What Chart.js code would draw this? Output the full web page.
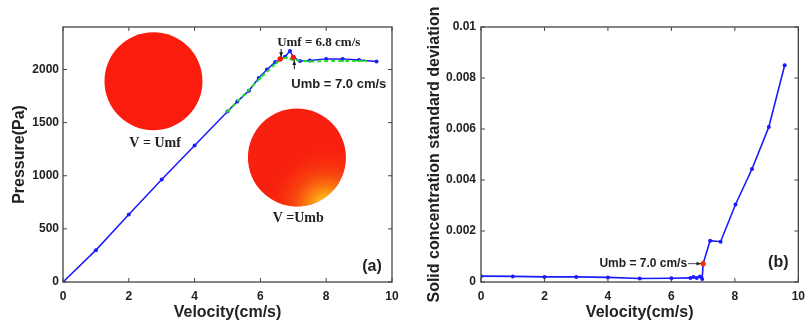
<!DOCTYPE html>
<html>
<head>
<meta charset="utf-8">
<script src="https://cdn.jsdelivr.net/npm/chart.js@4.4.1/dist/chart.umd.min.js"></script>
<style>
  body { margin: 0; background: #fff; }
  .painel { position: absolute; top: 0; }
</style>
</head>
<body>
<div class="painel" style="left:0"><canvas id="graficoA" width="410" height="322"></canvas></div>
<div class="painel" style="left:410px"><canvas id="graficoB" width="402" height="322"></canvas></div>
<script>
// Dados (a): pressão x velocidade
const velPressao = [0, 1, 2, 3, 4, 5, 5.3, 5.65, 5.95, 6.2, 6.45, 6.6, 6.75, 6.9, 7.0, 7.2, 7.5, 8, 8.5, 9, 9.53];
const pressao = [0, 300, 635, 965, 1285, 1605, 1700, 1800, 1920, 2000, 2070, 2100, 2120, 2175, 2115, 2080, 2085, 2100, 2100, 2090, 2075];
const velVerde = [5, 5.5, 6, 6.5, 6.6, 6.8, 7.0, 7.5, 8, 8.5, 9, 9.2];
const pressaoVerde = [1605, 1760, 1920, 2065, 2100, 2110, 2090, 2075, 2080, 2080, 2080, 2080];
const velMarcas = [6.6, 7.0];
const pressaoMarcas = [2100, 2115];

// Dados do gráfico (b): desvio padrão da concentração de sólidos
const velDesvio = [0, 1, 2, 3, 4, 5, 6, 6.6, 6.7, 6.8, 6.9, 6.97, 7.0, 7.22, 7.55, 8.02, 8.54, 9.07, 9.57];
const desvio = [0.00023, 0.00022, 0.0002, 0.0002, 0.00018, 0.00014, 0.00015, 0.00016, 0.0002, 0.00016, 0.00022, 0.00012, 0.00072, 0.00162, 0.00158, 0.00304, 0.00443, 0.00608, 0.0085];
const velMarcaB = [7.0];
const desvioMarcaB = [0.00072];

// Ticks
const ticksVel = [0, 2, 4, 6, 8, 10];
const ticksPressao = [0, 500, 1000, 1500, 2000];
const ticksDesvio = [0, 0.002, 0.004, 0.006, 0.008, 0.01];

const pares = (xs, ys) => xs.map((x, i) => ({ x: x, y: ys[i] }));
const fonteTick = { family: 'Liberation Sans', size: 12, weight: 'bold' };
const fonteTitulo = { family: 'Liberation Sans', size: 16, weight: 'bold', lineHeight: 1.2 };
const corTexto = '#222';

// Moldura estilo MATLAB com ticks para dentro
const moldura = {
  id: 'moldura',
  afterDraw(chart) {
    const { ctx, chartArea: a, scales } = chart;
    ctx.save();
    ctx.strokeStyle = '#444';
    ctx.lineWidth = 1.3;
    ctx.strokeRect(a.left, a.top, a.right - a.left, a.bottom - a.top);
    ctx.lineWidth = 1;
    ctx.beginPath();
    scales.x.ticks.forEach(t => {
      const px = scales.x.getPixelForValue(t.value);
      ctx.moveTo(px, a.bottom); ctx.lineTo(px, a.bottom - 4);
      ctx.moveTo(px, a.top); ctx.lineTo(px, a.top + 4);
    });
    scales.y.ticks.forEach(t => {
      const py = scales.y.getPixelForValue(t.value);
      ctx.moveTo(a.left, py); ctx.lineTo(a.left + 4, py);
      ctx.moveTo(a.right, py); ctx.lineTo(a.right - 4, py);
    });
    ctx.stroke();
    ctx.restore();
  }
};

function seta(ctx, x1, y1, x2, y2) {
  const ang = Math.atan2(y2 - y1, x2 - x1);
  ctx.beginPath();
  ctx.moveTo(x1, y1); ctx.lineTo(x2, y2);
  ctx.stroke();
  ctx.beginPath();
  ctx.moveTo(x2, y2);
  ctx.lineTo(x2 - 5 * Math.cos(ang - 0.4), y2 - 5 * Math.sin(ang - 0.4));
  ctx.lineTo(x2 - 5 * Math.cos(ang + 0.4), y2 - 5 * Math.sin(ang + 0.4));
  ctx.closePath();
  ctx.fill();
}

// Figuras e anotações do gráfico (a)
const anotacoesA = {
  id: 'anotacoesA',
  beforeDatasetsDraw(chart) {
    const { ctx, scales: { x, y } } = chart;
    ctx.save();
    // círculo V = Umf
    let cx = x.getPixelForValue(2.75), cy = y.getPixelForValue(1890);
    ctx.beginPath(); ctx.arc(cx, cy, 49, 0, Math.PI * 2);
    ctx.fillStyle = '#fc1c0e'; ctx.fill();
    // círculo V = Umb
    cx = x.getPixelForValue(7.11); cy = y.getPixelForValue(1172);
    ctx.beginPath(); ctx.arc(cx, cy, 49, 0, Math.PI * 2);
    ctx.fillStyle = '#f8200e'; ctx.fill();
    ctx.save();
    ctx.clip();
    const g = ctx.createRadialGradient(cx + 30, cy + 50, 2, cx + 30, cy + 50, 62);
    g.addColorStop(0, 'rgba(255,240,40,1)');
    g.addColorStop(0.2, 'rgba(255,180,20,0.85)');
    g.addColorStop(0.55, 'rgba(248,100,15,0.5)');
    g.addColorStop(1, 'rgba(248,40,10,0)');
    ctx.fillStyle = g;
    ctx.fillRect(cx - 50, cy - 50, 100, 100);
    ctx.restore();

    ctx.fillStyle = corTexto;
    ctx.font = 'bold 14px "Liberation Serif"';
    ctx.textAlign = 'center'; ctx.textBaseline = 'middle';
    ctx.fillText('V = Umf', x.getPixelForValue(2.8), y.getPixelForValue(1300));
    ctx.fillText('V =Umb', x.getPixelForValue(7.15), y.getPixelForValue(600));
    ctx.restore();
  },
  afterDraw(chart) {
    const { ctx, chartArea: a, scales: { x, y } } = chart;
    ctx.save();
    ctx.fillStyle = corTexto; ctx.strokeStyle = '#111'; ctx.lineWidth = 1;
    ctx.textBaseline = 'middle'; ctx.textAlign = 'left';
    const ux = x.getPixelForValue(velMarcas[0]), uy = y.getPixelForValue(pressaoMarcas[0]);
    ctx.font = 'bold 13px "Liberation Serif"';
    ctx.fillText('Umf = 6.8 cm/s', ux - 3, uy - 16);
    seta(ctx, ux + 1, uy - 10, ux + 1, uy - 2);
    const bx = x.getPixelForValue(velMarcas[1]), by = y.getPixelForValue(pressaoMarcas[1]);
    ctx.font = 'bold 13px "Liberation Sans"';
    ctx.fillText('Umb = 7.0 cm/s', bx - 2, by + 27);
    seta(ctx, bx + 1, by + 12, bx + 1, by + 3);
    ctx.font = 'bold 16px "Liberation Sans"';
    ctx.textAlign = 'center';
    ctx.fillText('(a)', a.right - 20, a.bottom - 15);
    ctx.restore();
  }
};

// Anotações do gráfico (b)
const anotacoesB = {
  id: 'anotacoesB',
  afterDraw(chart) {
    const { ctx, chartArea: a, scales: { x, y } } = chart;
    ctx.save();
    ctx.fillStyle = corTexto; ctx.strokeStyle = '#555'; ctx.lineWidth = 1;
    const mx = x.getPixelForValue(velMarcaB[0]), my = y.getPixelForValue(desvioMarcaB[0]);
    ctx.font = 'bold 12px "Liberation Sans"';
    ctx.textAlign = 'right'; ctx.textBaseline = 'middle';
    ctx.fillText('Umb = 7.0 cm/s', mx - 16, my);
    seta(ctx, mx - 15, my, mx - 2, my);
    ctx.font = 'bold 16px "Liberation Sans"';
    ctx.textAlign = 'center';
    ctx.fillText('(b)', a.right - 20, a.bottom - 19);
    ctx.restore();
  }
};

function eixoX() {
  return {
    type: 'linear', min: 0, max: 10,
    afterBuildTicks: s => { s.ticks = ticksVel.map(v => ({ value: v })); },
    afterFit: s => { s.height = 40; },
    grid: { display: false, drawTicks: false },
    border: { display: false },
    ticks: { font: fonteTick, color: corTexto, padding: 7, maxRotation: 0, callback: v => String(v) },
    title: { display: true, text: 'Velocity(cm/s)', font: fonteTitulo, color: corTexto, padding: { top: 0, bottom: 0 } }
  };
}

new Chart(document.getElementById('graficoA'), {
  type: 'scatter',
  data: {
    datasets: [
      { data: pares(velMarcas, pressaoMarcas), showLine: false, pointRadius: 2.6, pointBackgroundColor: '#ff1000', pointBorderWidth: 0, order: 0 },
      { data: pares(velVerde, pressaoVerde), showLine: true, borderColor: '#22e022', borderWidth: 2, borderDash: [4, 3], pointRadius: 1.3, pointBackgroundColor: '#22e022', pointBorderWidth: 0, order: 1 },
      { data: pares(velPressao, pressao), showLine: true, borderColor: '#1a1aff', borderWidth: 1.5, pointRadius: 2, pointBackgroundColor: '#1a1aff', pointBorderWidth: 0, order: 2 }
    ]
  },
  options: {
    responsive: false, animation: false,
    layout: { padding: { top: 27, right: 18, left: 0, bottom: 0 } },
    plugins: { legend: { display: false }, tooltip: { enabled: false } },
    scales: {
      x: eixoX(),
      y: {
        type: 'linear', min: 0, max: 2400,
        afterBuildTicks: s => { s.ticks = ticksPressao.map(v => ({ value: v })); },
        afterFit: s => { s.width = 63; },
        grid: { display: false, drawTicks: false },
        border: { display: false },
        ticks: { font: fonteTick, color: corTexto, padding: 4, callback: v => String(v) },
        title: { display: true, text: 'Pressure(Pa)', font: fonteTitulo, color: corTexto, padding: { top: 10, bottom: 0 } }
      }
    }
  },
  plugins: [anotacoesA, moldura]
});

new Chart(document.getElementById('graficoB'), {
  type: 'scatter',
  data: {
    datasets: [
      { data: pares(velMarcaB, desvioMarcaB), showLine: false, pointRadius: 2.6, pointBackgroundColor: '#ff2a00', pointBorderWidth: 0, order: 0 },
      { data: pares(velDesvio, desvio), showLine: true, borderColor: '#1a1aff', borderWidth: 1.6, pointRadius: 2, pointBackgroundColor: '#1a1aff', pointBorderWidth: 0, order: 1 }
    ]
  },
  options: {
    responsive: false, animation: false,
    layout: { padding: { top: 27, right: 7, left: 0, bottom: 0 } },
    plugins: { legend: { display: false }, tooltip: { enabled: false } },
    scales: {
      x: eixoX(),
      y: {
        type: 'linear', min: 0, max: 0.01,
        afterBuildTicks: s => { s.ticks = ticksDesvio.map(v => ({ value: v })); },
        afterFit: s => { s.width = 71; },
        grid: { display: false, drawTicks: false },
        border: { display: false },
        ticks: { font: fonteTick, color: corTexto, padding: 5, callback: v => String(v) },
        title: { display: true, text: 'Solid concentration standard deviation', font: fonteTitulo, color: corTexto, padding: { top: 15, bottom: 0 } }
      }
    }
  },
  plugins: [anotacoesB, moldura]
});
</script>
</body>
</html>
